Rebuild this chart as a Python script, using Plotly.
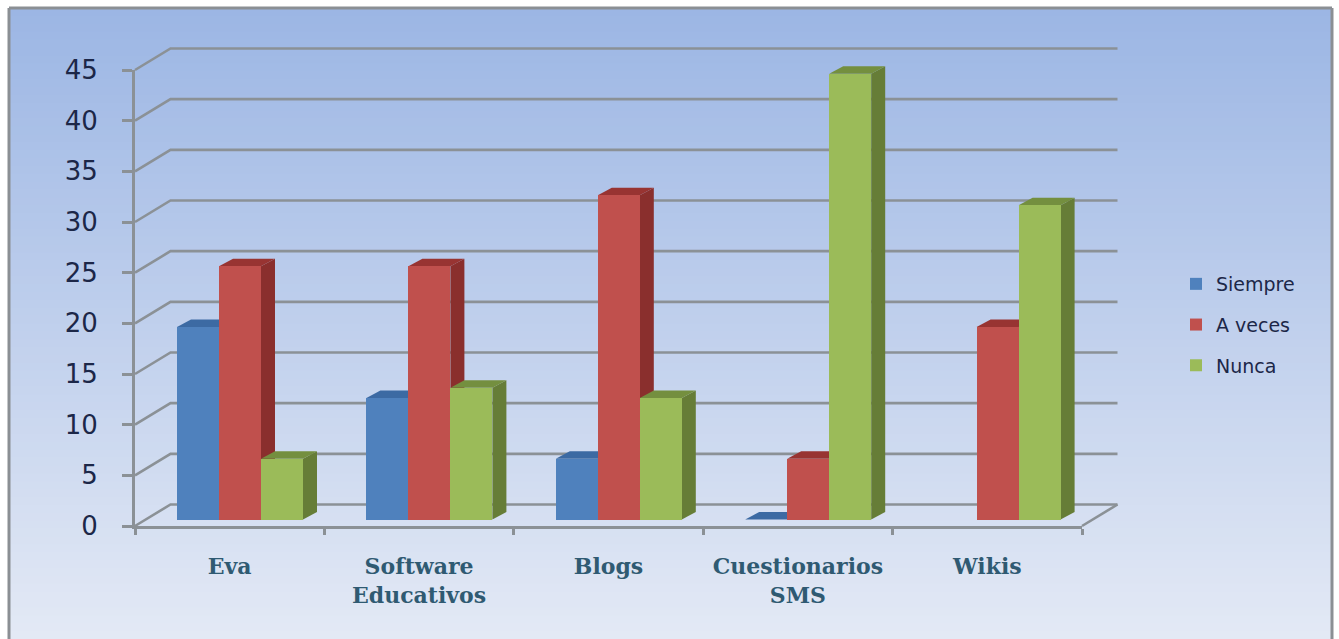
import plotly.graph_objects as go

categories = ["Eva", "Software<br>Educativos", "Blogs", "Cuestionarios<br>SMS", "Wikis"]
siempre = [19, 12, 6, 0, None]
a_veces = [25, 25, 32, 6, 19]
nunca = [6, 13, 12, 44, 31]
y_ticks = [0, 5, 10, 15, 20, 25, 30, 35, 40, 45]
series = [
    ("Siempre", siempre, "#4f81bd", "#3a6496", "#3c6aa3"),
    ("A veces", a_veces, "#c0504d", "#8a2f2d", "#983432"),
    ("Nunca", nunca, "#9bbb59", "#667d37", "#748f3f"),
]

W, H = 1339, 639
X0, X1 = 135, 1082
Y0, Y45 = 526, 70
ux = (X1 - X0) / 5
uy = (Y0 - Y45) / 45
WALL_DX, WALL_DY = 35.5 / ux, 21.5 / uy
BAR_DX, BAR_DY = 14 / ux, 7.5 / uy
BASE = 6.5 / uy
BW = 42 / ux
LINE = "#8b9196"

# The wall/side-face subplot is a little larger than the axis subplot, same scale
PAD_L, PAD_R, PAD_T, PAD_B = 4, 44, 30, 4
wall_xrange = [-PAD_L / ux, 5 + PAD_R / ux]
wall_yrange = [-PAD_B / uy, 45 + PAD_T / uy]

fig = go.Figure()

for v in y_ticks:
    fig.add_trace(go.Scatter(
        x=[0, WALL_DX, 5 + WALL_DX], y=[v, v + WALL_DY, v + WALL_DY], mode="lines",
        line=dict(color=LINE, width=2.6), showlegend=False, hoverinfo="skip"))
fig.add_trace(go.Scatter(
    x=[5, 5 + WALL_DX], y=[0, WALL_DY], mode="lines",
    line=dict(color=LINE, width=2.6), showlegend=False, hoverinfo="skip"))

for i in range(len(categories)):
    for s, (name, vals, col, side, top) in enumerate(series):
        v = vals[i]
        if v is None:
            continue
        xl = i + (s + 1) * BW
        xr = xl + BW
        yb, yt = BASE, BASE + v
        if v > 0:
            fig.add_trace(go.Scatter(
                x=[xr, xr + BAR_DX, xr + BAR_DX, xr, xr], y=[yb, yb + BAR_DY, yt + BAR_DY, yt, yb],
                mode="lines", fill="toself", fillcolor=side, line=dict(width=0),
                showlegend=False, hoverinfo="skip"))
        fig.add_trace(go.Scatter(
            x=[xl, xl + BAR_DX, xr + BAR_DX, xr, xl], y=[yt, yt + BAR_DY, yt + BAR_DY, yt, yt],
            mode="lines", fill="toself", fillcolor=top, line=dict(width=0),
            showlegend=False, hoverinfo="skip"))

for s, (name, vals, col, side, top) in enumerate(series):
    fig.add_trace(go.Bar(
        x=[i + (s + 1.5) * BW for i in range(len(categories))], y=vals, base=BASE, width=BW,
        name=name, marker=dict(color=col, line=dict(width=0)), xaxis="x2", yaxis="y2",
        legendgroup=name,
        customdata=[c.replace("<br>", " ") for c in categories],
        hovertemplate="%{customdata}<br>" + name + ": %{y}<extra></extra>"))

FL, FT, FR = 9, 8, 1332
top_c, bot_c = (156, 182, 228), (227, 233, 245)
shapes = []
STEPS = 80
for k in range(STEPS):
    t = k / (STEPS - 1)
    c = tuple(round(a + (b - a) * t) for a, b in zip(top_c, bot_c))
    y_a = FT + (H - FT) * k / STEPS
    y_b = FT + (H - FT) * (k + 1) / STEPS + 1
    shapes.append(dict(type="rect", xref="paper", yref="paper", layer="below",
                       x0=FL / W, x1=FR / W, y0=1 - y_a / H, y1=1 - min(y_b, H) / H,
                       fillcolor="rgb(%d,%d,%d)" % c, line=dict(width=0)))
for x0_, y0_, x1_, y1_ in [(FL, FT, FR, FT), (FL, FT, FL, H), (FR, FT, FR, H)]:
    shapes.append(dict(type="line", xref="paper", yref="paper", layer="below",
                       x0=x0_ / W, x1=x1_ / W, y0=1 - y0_ / H, y1=1 - y1_ / H,
                       line=dict(color="#8b8f94", width=3)))

fig.update_layout(
    width=W, height=H, margin=dict(l=0, r=0, t=0, b=0), autosize=False,
    paper_bgcolor="white", plot_bgcolor="rgba(0,0,0,0)",
    shapes=shapes, barmode="overlay", bargap=0,
    xaxis=dict(domain=[(X0 - PAD_L) / W, (X1 + PAD_R) / W], range=wall_xrange, visible=False,
               automargin=False, anchor="y"),
    yaxis=dict(domain=[1 - (Y0 + PAD_B) / H, 1 - (Y45 - PAD_T) / H], range=wall_yrange, visible=False,
               automargin=False, anchor="x"),
    xaxis2=dict(domain=[X0 / W, X1 / W], range=[0, 5], anchor="y2", automargin=False,
                showgrid=False, zeroline=False, showline=True, linecolor=LINE, linewidth=3,
                tickmode="array", tickvals=[i + 0.5 for i in range(5)], ticktext=categories,
                ticks="outside", ticklen=0, tickwidth=0, ticklabelstandoff=19,
                minor=dict(tickmode="array", tickvals=[0, 1, 2, 3, 4, 5], ticks="outside",
                           ticklen=6, tickwidth=3, tickcolor=LINE),
                tickfont=dict(family="DejaVu Serif", size=22, color="#2f5a72", weight="bold")),
    yaxis2=dict(domain=[1 - Y0 / H, 1 - Y45 / H], range=[0, 45], anchor="x2", automargin=False,
                showgrid=False, zeroline=False, showline=True, linecolor=LINE, linewidth=3,
                tickmode="array", tickvals=y_ticks,
                ticks="outside", ticklen=10, tickwidth=2.5, tickcolor=LINE, ticklabelstandoff=19,
                tickfont=dict(family="DejaVu Sans", size=26, color="#1c2748")),
    legend=dict(x=1176 / W, y=1 - 265 / H, xanchor="left", yanchor="top",
                bgcolor="rgba(0,0,0,0)", traceorder="grouped", tracegroupgap=13,
                font=dict(family="DejaVu Sans", size=19, color="#1c2748")),
    hovermode="closest",
)

fig.write_html("out.html", config={"displayModeBar": False},
               post_script="document.body.style.margin='0';document.body.style.overflow='hidden';")
